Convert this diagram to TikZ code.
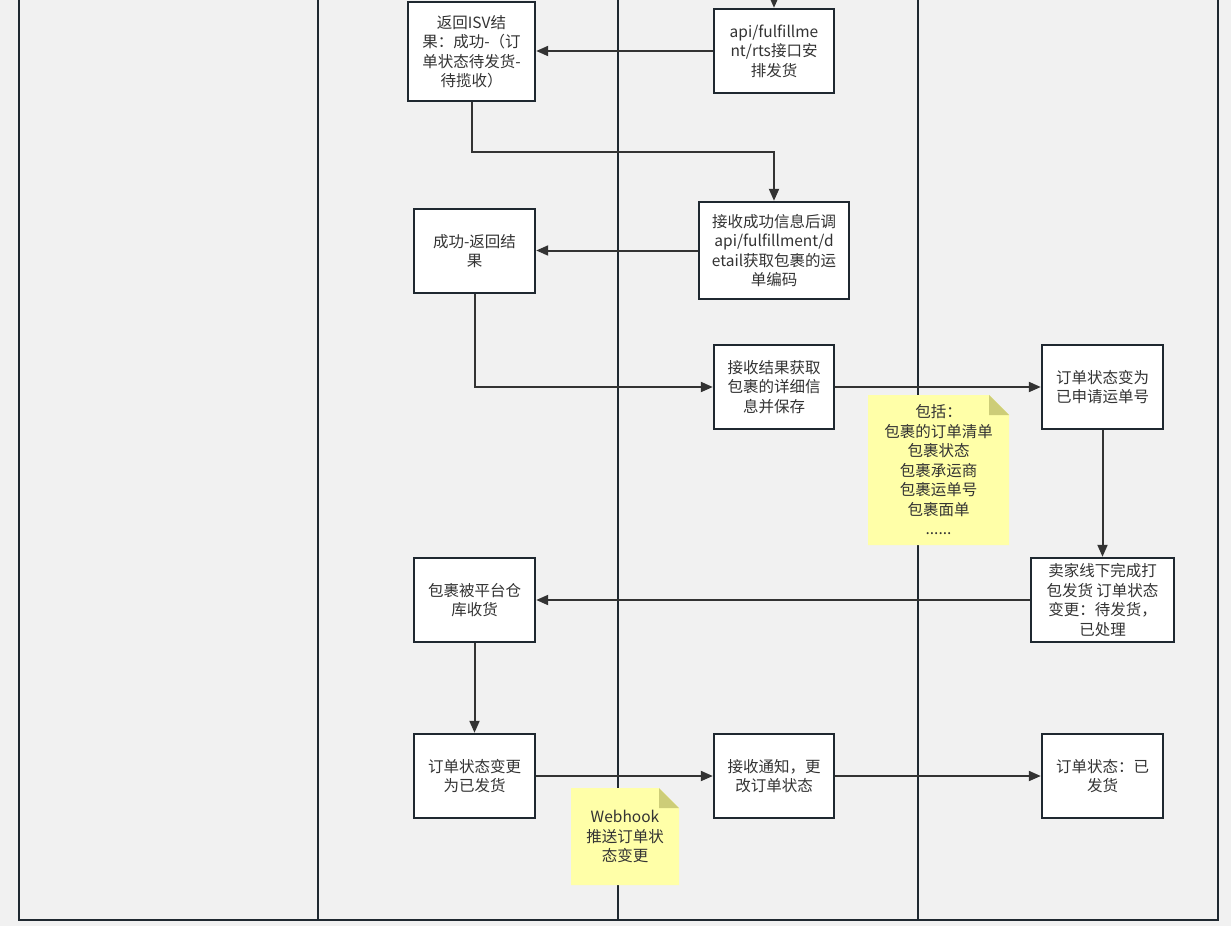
\documentclass[tikz,border=0pt]{standalone}
\usepackage{fontspec}
\setmainfont{Noto Sans CJK SC}
\usetikzlibrary{arrows.meta}
\definecolor{bg}{HTML}{F1F1F1}
\definecolor{ln}{HTML}{1F2830}
\definecolor{tx}{HTML}{333333}
\definecolor{notefill}{HTML}{FFFFA8}
\definecolor{notefold}{HTML}{CDCD78}
\tikzset{
  box/.style={draw=ln, line width=2.4pt, fill=white, align=center, text=tx,
    font=\fontsize{15.5}{19.5}\selectfont, inner sep=2pt},
  conn/.style={draw=tx, line width=2pt, -{Triangle[length=12pt,width=10pt]}},
  lane/.style={draw=ln, line width=2.7pt},
  thinlane/.style={draw=ln, line width=1.8pt},
  notebody/.style={fill=notefill},
  notecorner/.style={fill=notefold},
  notetext/.style={align=center, text=tx, font=\fontsize{15.5}{19.5}\selectfont, inner sep=0pt}
}
\begin{document}
\begin{tikzpicture}[x=1pt,y=-1pt]
\fill[bg] (0,0) rectangle (1231,926);
\useasboundingbox (0,0) rectangle (1231,926);
% lanes
\draw[lane] (19,0) -- (19,920) -- (1218,920) -- (1218,0);
\draw[lane] (318,0) -- (318,920);
\draw[thinlane] (618,0) -- (618,920);
\draw[lane] (918,0) -- (918,920);
% notes
\path[notebody] (868,395) -- (989,395) -- (1009,415) -- (1009,545) -- (868,545) -- cycle;
\path[notecorner] (989,395) -- (1009,415) -- (989,415) -- cycle;
\node[notetext] (n1text) at (938.5,470) {包括：\\包裹的订单清单\\包裹状态\\包裹承运商\\包裹运单号\\包裹面单\\......};
\path[notebody] (571,788) -- (659,788) -- (679,808) -- (679,885) -- (571,885) -- cycle;
\path[notecorner] (659,788) -- (679,808) -- (659,808) -- cycle;
\node[notetext] (n2text) at (625,836.5) {Webhook\\推送订单状\\态变更};
% boxes
\node[box, minimum width=127pt, minimum height=99pt] (A) at (471.5,51.5) {返回ISV结\\果：成功-（订\\单状态待发货-\\待揽收）};
\node[box, minimum width=120pt, minimum height=84pt] (B) at (774,51) {api/fulfillme\\nt/rts接口安\\排发货};
\node[box, minimum width=150pt, minimum height=97pt] (C) at (774,250.5) {接收成功信息后调\\api/fulfillment/d\\etail获取包裹的运\\单编码};
\node[box, minimum width=121pt, minimum height=84pt] (D) at (474.5,251) {成功-返回结\\果};
\node[box, minimum width=120pt, minimum height=84pt] (E) at (774,387) {接收结果获取\\包裹的详细信\\息并保存};
\node[box, minimum width=121pt, minimum height=84pt] (F) at (1102.5,387) {订单状态变为\\已申请运单号};
\node[box, minimum width=143pt, minimum height=84pt] (G) at (1102.5,600) {卖家线下完成打\\包发货 订单状态\\变更：待发货，\\已处理};
\node[box, minimum width=121pt, minimum height=84pt] (H) at (474.5,600) {包裹被平台仓\\库收货};
\node[box, minimum width=121pt, minimum height=84pt] (I) at (474.5,776) {订单状态变更\\为已发货};
\node[box, minimum width=120pt, minimum height=84pt] (J) at (774,776) {接收通知，更\\改订单状态};
\node[box, minimum width=121pt, minimum height=84pt] (K) at (1102.5,776) {订单状态：已\\发货};
% connectors
\coordinate (top) at (774,0);
\draw[conn] (top) -- (B.north);
\draw[conn] (B.west) -- (B.west -| A.east);
\draw[conn] (A.south) -- ++(0,50) -| (C.north);
\draw[conn] (C.west) -- (C.west -| D.east);
\draw[conn] (D.south) |- (E.west);
\draw[conn] (E.east) -- (F.west);
\draw[conn] (F.south) -- (G.north);
\draw[conn] (G.west) -- (H.east);
\draw[conn] (H.south) -- (I.north);
\draw[conn] (I.east) -- (J.west);
\draw[conn] (J.east) -- (K.west);
\end{tikzpicture}
\end{document}
